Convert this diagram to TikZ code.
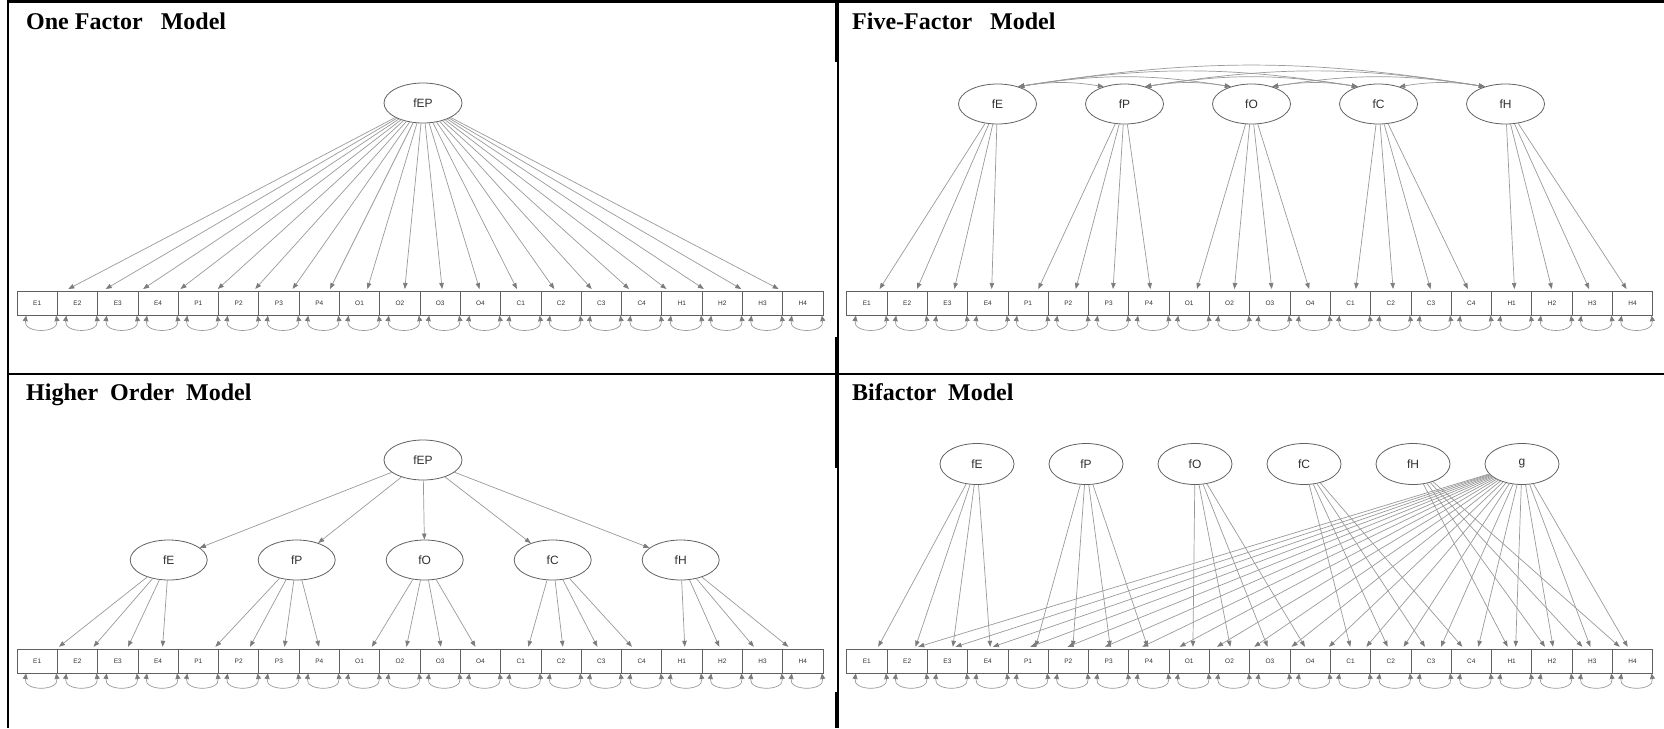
\documentclass[tikz,border=0pt]{standalone}
\usepackage{fontspec}
\setmainfont{Liberation Serif}
\setsansfont{Liberation Sans}
\usetikzlibrary{shapes.geometric,arrows.meta,calc}

\definecolor{edgec}{HTML}{999999}
\definecolor{tipc}{HTML}{7C7C7C}
\definecolor{nodec}{HTML}{606060}
\definecolor{labc}{HTML}{303030}

\tikzset{
  item/.style={draw=nodec, line width=0.8pt, minimum width=40.3pt, minimum height=23.5pt,
    inner sep=0pt, font=\sffamily\fontsize{6.5}{7}\selectfont, text=labc},
  latent/.style={ellipse, draw=nodec, line width=0.8pt, minimum width=78pt, minimum height=40pt,
    inner sep=0pt, font=\sffamily\fontsize{12}{14}\selectfont, text=labc},
  ld/.style={draw=edgec, line width=0.7pt, -{Triangle[length=6pt,width=4.5pt,color=tipc]}},
  resid/.style={draw=edgec, line width=0.7pt,
    {Triangle[length=5.5pt,width=5pt,color=tipc]}-{Triangle[length=5.5pt,width=5pt,color=tipc]}},
  covar/.style={draw=edgec, line width=0.7pt,
    {Triangle[length=6pt,width=4.5pt,color=tipc]}-{Triangle[length=6pt,width=4.5pt,color=tipc]}},
  title/.style={anchor=base west, inner sep=0pt, font=\bfseries\fontsize{24}{28}\selectfont},
  rule/.style={draw=black, line cap=butt}
}

% a row of twenty indicator boxes, each with its residual variance loop
\newcommand\itemrow[3]{%
  \foreach \lab [count=\i from 0] in {E1,E2,E3,E4,P1,P2,P3,P4,O1,O2,O3,O4,C1,C2,C3,C4,H1,H2,H3,H4}{%
    \node[item] (#1\lab) at ({#2+20.15+40.3*\i},#3) {\lab};
    \draw[resid] ([xshift=-11pt]#1\lab.south) .. controls +(-3,18) and +(3,18) .. ([xshift=19pt]#1\lab.south);
  }}

% factor loading: from the latent towards the indicator, stopping 14.5pt
% (vertically) above the indicator's centre
\newcommand\loadarrow[2]{%
  \draw[ld] let \p1=(#1.center), \p2=([xshift=3.5pt]#2.center),
    \n1={14.5*veclen((\x1)-(\x2),(\y1)-(\y2))/((\y1)-(\y2))} in
    (#1) -- ($(\p2)!\n1!(\p1)$);}

\begin{document}
\begin{tikzpicture}[x=1pt,y=-1pt]
\useasboundingbox (0,0) rectangle (1664,728);

% ---------- table rules ----------
\draw[rule, line width=3.3pt] (6.7,1.65) -- (1664,1.65);
\draw[rule, line width=2.6pt] (8,0) -- (8,728);
\draw[rule, line width=2.4pt] (8,374) -- (1664,374);
\draw[rule, line width=2pt] (837.5,0) -- (837.5,728);
\draw[rule, line width=3.4pt] (836.5,0) -- (836.5,62);
\draw[rule, line width=3.4pt] (836.5,337) -- (836.5,468);
\draw[rule, line width=3.4pt] (836.5,692) -- (836.5,728);

% ---------- titles ----------
\node[title] (t1) at (26,29) {One Factor\ \ \ Model};
\node[title] (t2) at (852,29) {Five-Factor\ \ \ Model};
\node[title] (t3) at (26,400) {Higher\ \ Order\ \ Model};
\node[title] (t4) at (852,400) {Bifactor\ \ Model};

% ---------- one factor model ----------
\itemrow{a}{17}{303.5}
\node[latent] (afEP) at (423,103) {fEP};
\foreach \f in {E,P,O,C,H}
  \foreach \k in {1,...,4} {\loadarrow{afEP}{a\f\k}}

% ---------- five-factor model ----------
\itemrow{b}{846.7}{303.5}
\foreach \f [count=\j from 0] in {E,P,O,C,H}
  \node[latent] (bf\f) at ({997.5+127*\j},104) {f\f};
\foreach \f in {E,P,O,C,H}
  \foreach \k in {1,...,4} {\loadarrow{bf\f}{b\f\k}}
\foreach \a/\b in {E/P,E/O,E/C,E/H,P/O,P/C,P/H,O/C,O/H,C/H}
  \draw[covar] (bf\a.40) to[bend left=9] (bf\b.140);

% ---------- higher order model ----------
\itemrow{c}{17}{661.3}
\node[latent] (cfEP) at (423,460) {fEP};
\foreach \f [count=\j from 0] in {E,P,O,C,H}
  \node[latent, minimum width=77pt] (cf\f) at ({168.7+128*\j},560) {f\f};
\foreach \f in {E,P,O,C,H}
  \draw[ld] (cfEP) -- (cf\f);
\foreach \f in {E,P,O,C,H}
  \foreach \k in {1,...,4} {\loadarrow{cf\f}{c\f\k}}

% ---------- bifactor model ----------
\itemrow{d}{846.7}{661.3}
\foreach \f [count=\j from 0] in {E,P,O,C,H}
  \node[latent, minimum width=74pt, minimum height=41pt] (df\f) at ({977+109*\j},464) {f\f};
\node[latent, minimum width=74pt, minimum height=41pt] (dg) at (1522,464) {g};
\foreach \f in {E,P,O,C,H}
  \foreach \k in {1,...,4} {\loadarrow{df\f}{d\f\k}}
\foreach \f in {E,P,O,C,H}
  \foreach \k in {1,...,4} {\loadarrow{dg}{d\f\k}}

\end{tikzpicture}
\end{document}
